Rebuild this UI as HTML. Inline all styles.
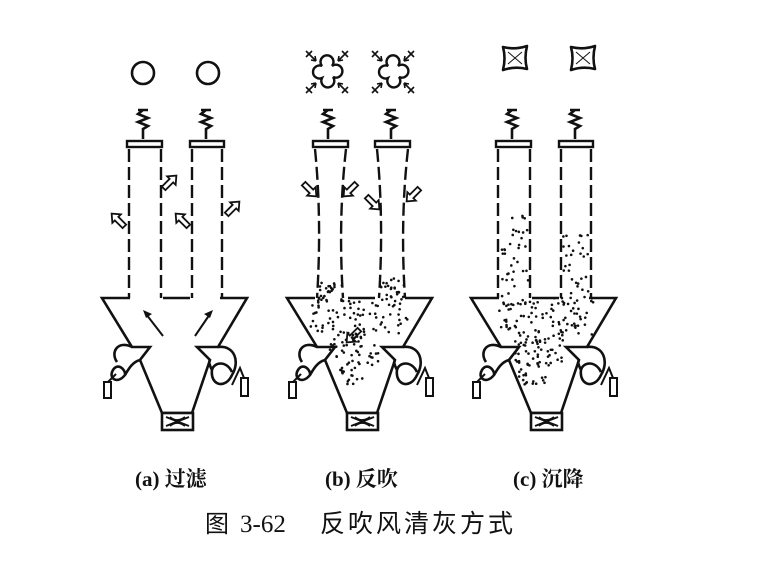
<!DOCTYPE html>
<html><head><meta charset="utf-8"><style>
html,body{margin:0;padding:0;background:#fff;width:768px;height:564px;overflow:hidden}
svg{display:block}
</style></head><body>
<svg id="s" width="768" height="564" viewBox="0 0 768 564" xmlns="http://www.w3.org/2000/svg">
<defs>
<g id="base" fill="none" stroke="#111" stroke-width="2.6">
  <path d="M138,110 h10 M143,110 l-5,4 l10,4 l-10,4 l10,4 l-5,3 v10"/>
  <path d="M201,110 h10 M206,110 l-5,4 l10,4 l-10,4 l10,4 l-5,3 v10"/>
  <path d="M130,298 H102 L132,347 H150 L140,360 L162,413 H192 L210,360 L197,347 H218 L247,298 H220"/>
  <path d="M163,298 H190"/>
  <rect x="162" y="413" width="31" height="17" fill="#fff"/>
  <path d="M166,417 L189,426 M189,417 L166,426" stroke-width="2"/>
  <path d="M170,417 Q177,423 185,417 M170,426 Q177,420 185,426" stroke-width="1.8"/>
  <path d="M132,347 C118,340 110,352 117,362 M140,360 C132,362 128,370 125,375 C117,385 108,378 113,370 C118,362 126,370 125,375"/>
  <rect x="104" y="382" width="7" height="16" stroke-width="2"/>
  <path d="M108,382 L116,374" stroke-width="2"/>
  <path d="M218,347 C235,345 240,362 232,375 C225,390 210,385 212,370 C214,362 226,360 232,372 M210,360 C208,362 210,366 212,370"/>
  <rect x="241" y="378" width="7" height="18" stroke-width="2"/>
  <path d="M244,378 L240,368 L232,385" stroke-width="2"/>
</g>
</defs>

<g id="panels"></g>

<g font-family="'Liberation Serif','Noto Serif CJK SC',serif" fill="#111">
  <text x="135" y="486" font-size="21" font-weight="bold">(a) 过滤</text>
  <text x="325" y="486" font-size="21" font-weight="bold">(b) 反吹</text>
  <text x="513" y="486" font-size="21" font-weight="bold">(c) 沉降</text>
  <text x="205" y="532" font-size="24" font-family="'Noto Sans CJK SC',sans-serif">图</text>
  <text x="240" y="532" font-size="25" font-family="'Liberation Serif',serif">3-62</text>
  <text x="320" y="532" font-size="25" letter-spacing="3" font-family="'Noto Sans CJK SC',sans-serif">反吹风清灰方式</text>
</g>
</svg>
<script>
var NS="http://www.w3.org/2000/svg";
var P=document.getElementById("panels");
function el(t,a,p){var e=document.createElementNS(NS,t);for(var k in a)e.setAttribute(k,a[k]);(p||P).appendChild(e);return e;}
var seed=7;function r(){seed=(seed*9301+49297)%233280;return seed/233280;}
var offs=[0,185,369];
offs.forEach(function(o,i){
  var g=el("g",{transform:"translate("+o+",0)"});
  el("use",{href:"#base"},g);
  var st={fill:"none",stroke:"#111","stroke-width":"2.6"};
  var dash={fill:"none",stroke:"#111","stroke-width":"2.4","stroke-dasharray":"13,5"};
  function cap(x1,x2){el("rect",{x:x1,y:141,width:x2-x1,height:6,fill:"#fff",stroke:"#111","stroke-width":"2.4"},g);}
  if(i==1){
    cap(128,163);cap(190,225);
    el("path",Object.assign({d:"M130,149 Q137,220 132,298 M161,149 Q153,220 158,298"},dash),g);
    el("path",Object.assign({d:"M192,149 Q199,220 194,298 M223,149 Q215,220 220,298"},dash),g);
  } else {
    cap(127,162);cap(190,224);
    el("path",Object.assign({d:"M129,149 V298 M161,149 V298 M192,149 V298 M222,149 V298"},dash),g);
  }
  function hol(x,y,ang){
    var gg=el("g",{transform:"translate("+x+","+y+") rotate("+ang+")"},g);
    el("path",{d:"M-9,-2.5 H2 V-6 L9,0 L2,6 V2.5 H-9 Z",fill:"#fff",stroke:"#111","stroke-width":"1.8"},gg);
  }
  if(i==0){
    el("circle",Object.assign({cx:143,cy:73,r:11},st),g);
    el("circle",Object.assign({cx:208,cy:73,r:11},st),g);
    hol(118,220,-135);hol(170,182,-45);hol(182,220,-135);hol(233,208,-45);
    el("path",{d:"M163,336 L146,314 M195,336 L210,314",stroke:"#111","stroke-width":"2",fill:"none"},g);
    el("path",{d:"M143,310 L152,314 L146,318 Z M213,310 L204,314 L210,318 Z",fill:"#111"},g);
  }
  if(i==1){
    [[142,72],[208,72]].forEach(function(c){
      var x=c[0],y=c[1];
      el("path",{d:"M"+(x-5)+","+(y-6)+" a6.5,6.5 0 1 1 10,0 a6.5,6.5 0 1 1 1,11 a6.5,6.5 0 1 1 -11,1 a6.5,6.5 0 1 1 0,-12 z",fill:"none",stroke:"#111","stroke-width":"2.4"},g);
      [[-1,-1],[1,-1],[-1,1],[1,1]].forEach(function(d){
        el("path",{d:"M"+(x+d[0]*11)+","+(y+d[1]*11)+" L"+(x+d[0]*21)+","+(y+d[1]*21)+" M"+(x+d[0]*11)+","+(y+d[1]*11)+" l"+(d[0]*1)+","+(d[1]*5)+" M"+(x+d[0]*11)+","+(y+d[1]*11)+" l"+(d[0]*5)+","+(d[1]*1)+" M"+(x+d[0]*18)+","+(y+d[1]*18)+" l"+(d[0]*-3)+","+(d[1]*3)+" M"+(x+d[0]*18)+","+(y+d[1]*18)+" l"+(d[0]*3)+","+(d[1]*-3),stroke:"#111","stroke-width":"1.6",fill:"none"},g);
      });
    });
    hol(125,190,45);hol(165,190,135);hol(188,203,45);hol(228,195,135);hol(168,336,135);
  }
  if(i==2){
    [[146,58],[214,58]].forEach(function(c){
      var x=c[0],y=c[1];
      el("path",{d:"M"+(x-12)+","+(y-11)+" Q"+x+","+(y-8)+" "+(x+12)+","+(y-12)+" Q"+(x+9)+","+y+" "+(x+12)+","+(y+11)+" Q"+x+","+(y+8)+" "+(x-12)+","+(y+12)+" Q"+(x-9)+","+y+" "+(x-12)+","+(y-11)+"Z",fill:"none",stroke:"#111","stroke-width":"2.6","stroke-linejoin":"round"},g);
      el("path",{d:"M"+(x-7)+","+(y-6)+" L"+(x+7)+","+(y+6)+" M"+(x+7)+","+(y-6)+" L"+(x-7)+","+(y+6),stroke:"#111","stroke-width":"1",fill:"none"},g);
    });
  }
  function dots(n,x1,x2,y1,y2){for(var k=0;k<n;k++){el("circle",{cx:x1+r()*(x2-x1),cy:y1+r()*(y2-y1),r:1.3,fill:"#111"},g);}}
  if(i==1){dots(25,132,158,282,300);dots(25,195,220,278,300);dots(80,125,225,300,335);dots(45,145,195,335,365);dots(18,155,180,365,385);}
  if(i==2){dots(35,133,160,210,298);dots(30,194,220,235,298);dots(90,128,225,298,335);dots(55,145,195,335,365);dots(20,150,180,365,385);}
});
</script>
</body></html>
